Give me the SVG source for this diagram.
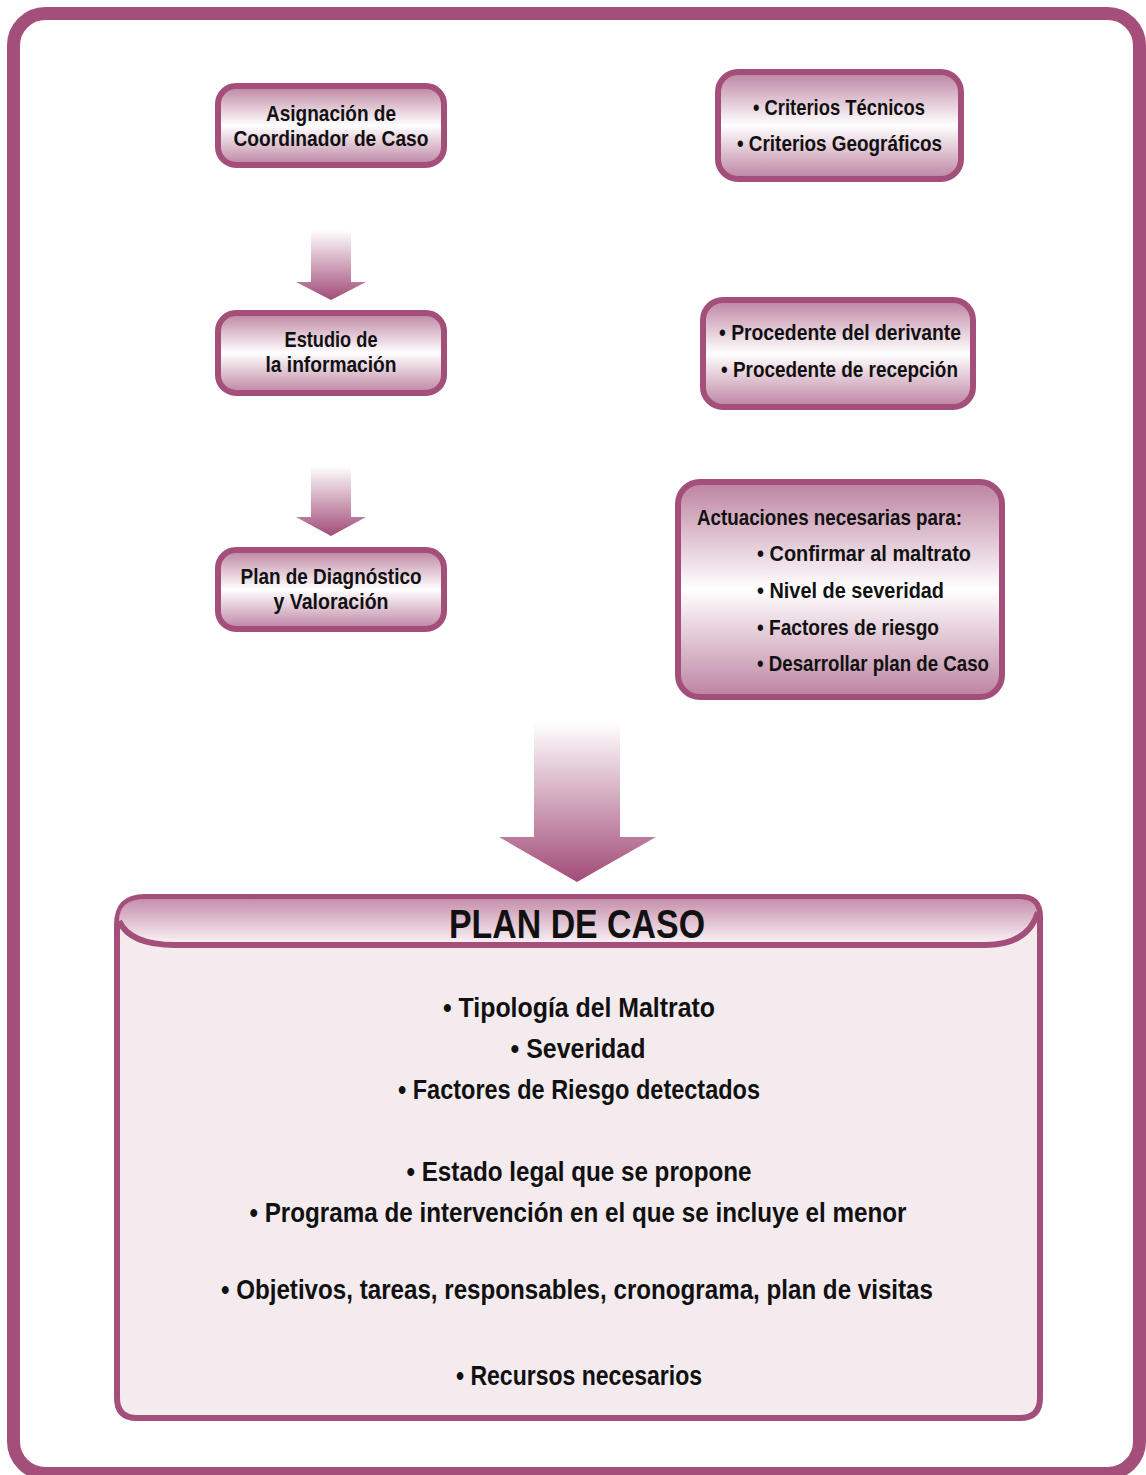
<svg xmlns="http://www.w3.org/2000/svg" width="1146" height="1475" viewBox="0 0 1146 1475">
<defs>
<linearGradient id="boxGrad" x1="0" y1="0" x2="0" y2="1">
<stop offset="0" stop-color="#bd83a1"/>
<stop offset="0.5" stop-color="#ffffff"/>
<stop offset="1" stop-color="#bd83a1"/>
</linearGradient>
<linearGradient id="arrowGrad" x1="0" y1="0" x2="0" y2="1">
<stop offset="0" stop-color="#ffffff"/>
<stop offset="1" stop-color="#a24b77"/>
</linearGradient>
<linearGradient id="headGrad" x1="0" y1="0" x2="0" y2="1">
<stop offset="0" stop-color="#c68fab"/>
<stop offset="1" stop-color="#fbf6f9"/>
</linearGradient>
<style>
.box{fill:url(#boxGrad);stroke:#a34f79;stroke-width:6}
.t{font-family:"Liberation Sans",Arial,sans-serif;font-weight:bold;font-size:22px;fill:#111}
.p{font-family:"Liberation Sans",Arial,sans-serif;font-weight:bold;font-size:28px;fill:#111;text-anchor:middle}
.c{text-anchor:middle}
.arrow{fill:url(#arrowGrad)}
</style>
</defs>
<rect x="13.5" y="13.5" width="1126" height="1460" rx="32" fill="#ffffff" stroke="#a34f79" stroke-width="13"/>

<g id="connectors">
<polygon class="arrow" points="311,230 351,230 351,282 366,282 331,300 296,282 311,282"/>
<polygon class="arrow" points="311,466 351,466 351,517 366,517 331,536 296,517 311,517"/>
<polygon class="arrow" points="534,722 620,722 620,837 656,837 577,882 499,837 534,837"/>
</g>

<g id="n-asignacion">
<rect class="box" x="218" y="86" width="226" height="79" rx="18"/>
<text class="t c" x="331" y="121" textLength="130" lengthAdjust="spacingAndGlyphs">Asignación de</text>
<text class="t c" x="331" y="146" textLength="195" lengthAdjust="spacingAndGlyphs">Coordinador de Caso</text>
</g>

<g id="n-criterios">
<rect class="box" x="718" y="72" width="243" height="107" rx="20"/>
<text class="t" x="753" y="115" textLength="172" lengthAdjust="spacingAndGlyphs">• Criterios Técnicos</text>
<text class="t" x="737" y="151" textLength="205" lengthAdjust="spacingAndGlyphs">• Criterios Geográficos</text>
</g>

<g id="n-estudio">
<rect class="box" x="218" y="313" width="226" height="80" rx="18"/>
<text class="t c" x="331" y="347" textLength="93" lengthAdjust="spacingAndGlyphs">Estudio de</text>
<text class="t c" x="331" y="372" textLength="131" lengthAdjust="spacingAndGlyphs">la información</text>
</g>

<g id="n-procedente">
<rect class="box" x="703" y="300" width="270" height="107" rx="20"/>
<text class="t" x="719" y="340" textLength="242" lengthAdjust="spacingAndGlyphs">• Procedente del derivante</text>
<text class="t" x="721" y="377" textLength="237" lengthAdjust="spacingAndGlyphs">• Procedente de recepción</text>
</g>

<g id="n-plan-diagnostico">
<rect class="box" x="218" y="550" width="226" height="79" rx="18"/>
<text class="t c" x="331" y="584" textLength="181" lengthAdjust="spacingAndGlyphs">Plan de Diagnóstico</text>
<text class="t c" x="331" y="609" textLength="115" lengthAdjust="spacingAndGlyphs">y Valoración</text>
</g>

<g id="n-actuaciones">
<rect class="box" x="678" y="482" width="324" height="215" rx="22"/>
<text class="t" x="697" y="525" textLength="265" lengthAdjust="spacingAndGlyphs">Actuaciones necesarias para:</text>
<text class="t" x="757" y="561" textLength="214" lengthAdjust="spacingAndGlyphs">• Confirmar al maltrato</text>
<text class="t" x="757" y="598" textLength="187" lengthAdjust="spacingAndGlyphs">• Nivel de severidad</text>
<text class="t" x="757" y="635" textLength="182" lengthAdjust="spacingAndGlyphs">• Factores de riesgo</text>
<text class="t" x="757" y="671" textLength="232" lengthAdjust="spacingAndGlyphs">• Desarrollar plan de Caso</text>
</g>

<g id="n-plan-caso">
<path d="M117,925 Q117,897 145,897 L1020,897 Q1040,897 1040,917 L1040,1398 Q1040,1418 1020,1418 L137,1418 Q117,1418 117,1398 Z" fill="#f4ebef" stroke="#a34f79" stroke-width="6"/>
<path d="M119,921 Q119,899 145,899 L1018,899 Q1037,899 1037,914 Q1028,945 985,945 L175,945 Q130,945 119,921 Z" fill="url(#headGrad)"/>
<path d="M119,921 Q130,945 175,945 L985,945 Q1028,945 1038,912" fill="none" stroke="#a34f79" stroke-width="6"/>
<text x="577" y="938" font-family="Liberation Sans,Arial,sans-serif" font-weight="bold" font-size="41" fill="#111" text-anchor="middle" textLength="256" lengthAdjust="spacingAndGlyphs">PLAN DE CASO</text>
<text class="p" x="579" y="1017" textLength="272" lengthAdjust="spacingAndGlyphs">• Tipología del Maltrato</text>
<text class="p" x="578" y="1058" textLength="135" lengthAdjust="spacingAndGlyphs">• Severidad</text>
<text class="p" x="579" y="1099" textLength="362" lengthAdjust="spacingAndGlyphs">• Factores de Riesgo detectados</text>
<text class="p" x="579" y="1181" textLength="345" lengthAdjust="spacingAndGlyphs">• Estado legal que se propone</text>
<text class="p" x="578" y="1222" textLength="657" lengthAdjust="spacingAndGlyphs">• Programa de intervención en el que se incluye el menor</text>
<text class="p" x="577" y="1299" textLength="712" lengthAdjust="spacingAndGlyphs">• Objetivos, tareas, responsables, cronograma, plan de visitas</text>
<text class="p" x="579" y="1385" textLength="246" lengthAdjust="spacingAndGlyphs">• Recursos necesarios</text>
</g>
</svg>
